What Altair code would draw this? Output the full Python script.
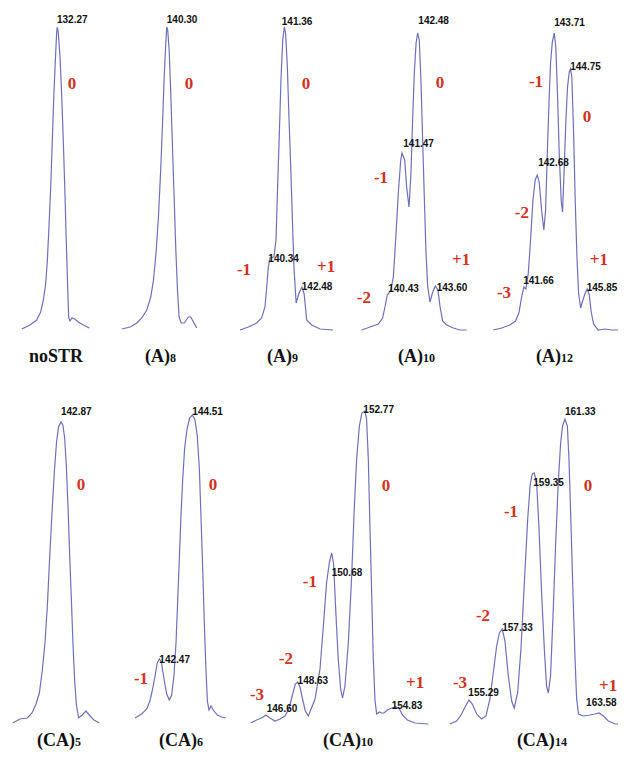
import altair as alt
import pandas as pd

# ---------------- data (size in bp, signal in relative fluorescence units) ----------------
nostr_bp = [130.05, 130.56, 130.98, 131.23, 131.40, 131.55, 131.65, 131.75, 131.86, 131.96,
            132.06, 132.17, 132.23, 132.27, 132.33, 132.44, 132.55, 132.65, 132.75, 132.83,
            132.92, 132.98, 133.06, 133.19, 133.36, 133.58, 133.90, 134.27]
nostr_rfu = [1, 5, 10, 18, 30, 47, 70, 103, 143, 190, 237, 277, 297, 303, 298, 273, 233, 187,
             137, 90, 43, 13, 9, 12, 11, 8, 5, 2]

a8_bp = [137.49, 138.01, 138.43, 138.74, 139.05, 139.30, 139.47, 139.63, 139.78, 139.93,
         140.05, 140.15, 140.24, 140.30, 140.36, 140.45, 140.55, 140.65, 140.76, 140.86,
         140.97, 141.07, 141.20, 141.40, 141.65, 141.80, 141.97, 142.18]
a8_rfu = [1, 3, 7, 12, 20, 33, 50, 77, 113, 163, 213, 257, 287, 303, 300, 280, 237, 187, 133,
          83, 40, 13, 7, 7, 13, 13, 8, 2]

a9_bp = [138.59, 139.11, 139.63, 139.94, 140.15, 140.26, 140.36, 140.46, 140.71, 140.84,
         140.94, 141.05, 141.15, 141.26, 141.36, 141.44, 141.55, 141.65, 141.76, 141.86,
         141.96, 142.10, 142.28, 142.46, 142.60, 142.76, 143.07, 143.59, 144.40]
a9_rfu = [0, 3, 7, 12, 23, 43, 63, 72, 73, 90, 143, 197, 250, 290, 303, 297, 263, 213, 163,
          113, 63, 27, 37, 43, 36, 10, 5, 1, 0]

a10_bp = [138.98, 139.50, 140.02, 140.29, 140.46, 140.58, 140.79, 140.96, 141.13, 141.27,
          141.42, 141.50, 141.67, 141.79, 141.94, 142.06, 142.17, 142.27, 142.38, 142.48,
          142.58, 142.69, 142.79, 142.90, 143.00, 143.11, 143.25, 143.40, 143.58, 143.75,
          143.88, 144.04, 144.29, 144.71, 145.13, 145.54]
a10_rfu = [0, 3, 6, 12, 25, 35, 39, 53, 97, 137, 170, 177, 170, 143, 123, 157, 213, 257, 287,
           297, 290, 247, 190, 130, 77, 43, 28, 37, 44, 40, 23, 9, 5, 2, 0, 0]

a12_bp = [139.90, 140.42, 140.94, 141.29, 141.50, 141.67, 141.81, 141.94, 142.09, 142.23,
          142.38, 142.52, 142.65, 142.77, 142.92, 143.06, 143.17, 143.27, 143.38, 143.48,
          143.59, 143.71, 143.81, 143.92, 144.02, 144.15, 144.23, 144.33, 144.44, 144.54,
          144.65, 144.73, 144.81, 144.92, 145.02, 145.13, 145.23, 145.36, 145.50, 145.65,
          145.77, 145.90, 146.02, 146.17, 146.46, 146.88, 147.29, 147.81]
a12_rfu = [0, 2, 5, 9, 17, 33, 43, 41, 57, 90, 130, 150, 155, 148, 120, 100, 120, 173, 227, 267,
           288, 297, 283, 233, 177, 128, 118, 160, 210, 243, 258, 261, 253, 197, 130, 73, 37, 22,
           30, 37, 41, 35, 18, 6, 0, 1, 0, 0]

ca5_bp = [139.85, 140.31, 140.77, 141.06, 141.31, 141.52, 141.70, 141.87, 142.02, 142.16,
          142.31, 142.45, 142.60, 142.72, 142.87, 142.99, 143.10, 143.20, 143.31, 143.41,
          143.52, 143.62, 143.72, 143.83, 143.97, 144.20, 144.43, 144.64, 144.93, 145.27]
ca5_rfu = [1, 5, 6, 11, 20, 31, 53, 81, 118, 165, 211, 251, 283, 297, 302, 299, 286, 260, 218,
           171, 125, 81, 45, 20, 6, 9, 13, 9, 4, 1]

ca6_bp = [140.93, 141.34, 141.66, 141.86, 142.03, 142.18, 142.32, 142.45, 142.57, 142.74,
          142.91, 143.07, 143.22, 143.36, 143.49, 143.59, 143.70, 143.80, 143.91, 144.03,
          144.18, 144.34, 144.51, 144.68, 144.82, 144.95, 145.05, 145.16, 145.26, 145.36,
          145.45, 145.55, 145.68, 145.82, 146.07, 146.34, 146.61]
ca6_rfu = [6, 10, 15, 23, 35, 48, 61, 65, 62, 45, 30, 24, 29, 48, 81, 121, 166, 208, 245, 276,
           295, 306, 309, 304, 288, 255, 208, 155, 101, 55, 23, 14, 18, 14, 9, 7, 6]

ca10_bp = [145.62, 146.00, 146.31, 146.58, 146.83, 147.15, 147.46, 147.77, 148.04, 148.25,
           148.42, 148.56, 148.71, 148.87, 149.04, 149.23, 149.65, 149.96, 150.17, 150.37,
           150.54, 150.69, 150.81, 150.94, 151.10, 151.25, 151.37, 151.52, 151.73, 151.94,
           152.10, 152.25, 152.42, 152.58, 152.77, 152.87, 152.98, 153.08, 153.19, 153.29,
           153.40, 153.50, 153.67, 153.81, 153.96, 154.17, 154.44, 154.71, 154.92, 155.12,
           155.42, 155.90, 156.73]
ca10_rfu = [1, 4, 6, 9, 6, 3, 5, 8, 16, 30, 40, 42, 37, 25, 13, 8, 25, 55, 98, 141, 161, 171,
            160, 115, 65, 35, 26, 38, 81, 148, 215, 265, 298, 311, 313, 305, 265, 198, 131, 65,
            23, 10, 12, 11, 11, 14, 16, 17, 15, 9, 4, 1, 0]

ca14_bp = [154.14, 154.56, 154.87, 155.12, 155.33, 155.54, 155.81, 156.12, 156.39, 156.64,
           156.85, 157.06, 157.23, 157.41, 157.58, 157.79, 158.00, 158.16, 158.37, 158.58,
           158.79, 159.00, 159.16, 159.29, 159.41, 159.56, 159.70, 159.87, 160.04, 160.18,
           160.29, 160.43, 160.60, 160.75, 160.91, 161.06, 161.18, 161.33, 161.48, 161.58,
           161.71, 161.83, 161.96, 162.06, 162.18, 162.48, 162.89, 163.21, 163.46, 163.73,
           164.04, 164.46, 164.83]
ca14_rfu = [0, 3, 10, 18, 24, 20, 10, 5, 8, 25, 51, 78, 91, 95, 83, 48, 23, 16, 31, 75, 141,
            205, 240, 250, 251, 241, 198, 131, 75, 38, 31, 48, 115, 181, 241, 281, 298, 305,
            298, 265, 198, 131, 65, 25, 10, 8, 9, 10, 11, 8, 3, 0, 0]

# called peak sizes (bp) and where their labels are anchored (bp, rfu)
nostr_peaks = [132.27]; nostr_plx = [132.25]; nostr_ply = [310]
a8_peaks = [140.30]; a8_plx = [140.30]; a8_ply = [310]
a9_peaks = [141.36, 140.34, 142.48]; a9_plx = [141.20, 140.36, 142.45]; a9_ply = [308, 71, 43]
a10_peaks = [142.48, 141.47, 140.43, 143.60]; a10_plx = [142.52, 141.58, 140.64, 143.67]
a10_ply = [309, 186, 41, 42]
a12_peaks = [143.71, 144.75, 142.68, 141.66, 145.85]
a12_plx = [143.71, 144.71, 142.71, 141.77, 145.74]; a12_ply = [307, 263, 167, 49, 42]
ca5_peaks = [142.87]; ca5_plx = [142.87]; ca5_ply = [312]
ca6_peaks = [144.51, 142.47]; ca6_plx = [144.51, 142.45]; ca6_ply = [312, 64]
ca10_peaks = [146.60, 148.63, 150.68, 152.77, 154.83]
ca10_plx = [146.63, 148.56, 150.69, 152.67, 154.44]; ca10_ply = [15, 43, 151, 314, 18]
ca14_peaks = [155.29, 157.33, 159.35, 161.33, 163.58]
ca14_plx = [155.29, 157.41, 159.35, 161.33, 162.65]; ca14_ply = [31, 96, 241, 312, 21]

# stutter-position annotations (text, bp, rfu)
nostr_st = ["0"]; nostr_stx = [133.19]; nostr_sty = [246]
a8_st = ["0"]; a8_stx = [141.69]; a8_sty = [246]
a9_st = ["0", "-1", "+1"]; a9_stx = [142.72, 138.84, 143.97]; a9_sty = [246, 60, 63]
a10_st = ["0", "-1", "-2", "+1"]; a10_stx = [143.87, 140.19, 139.12, 145.19]
a10_sty = [247, 152, 32, 70]
a12_st = ["-1", "0", "-2", "-3", "+1"]; a12_stx = [142.57, 145.75, 141.69, 140.57, 146.50]
a12_sty = [248, 213, 117, 37, 70]
ca5_st = ["0"]; ca5_stx = [144.12]; ca5_sty = [239]
ca6_st = ["0", "-1"]; ca6_stx = [145.80, 141.30]; ca6_sty = [239, 45]
ca10_st = ["-1", "-2", "-3", "0", "+1"]; ca10_stx = [149.33, 147.83, 146.02, 154.08, 155.90]
ca10_sty = [142, 65, 29, 238, 41]
ca14_st = ["-1", "0", "-2", "-3", "+1"]; ca14_stx = [157.96, 162.77, 156.21, 154.77, 164.03]
ca14_sty = [212, 238, 108, 41, 38]

# panel names: main text, subscript, anchor (bp) where the main text ends
top_names = ["noSTR", "(A)", "(A)", "(A)", "(A)"]
top_subs = ["", "8", "9", "10", "12"]
top_name_x = [133.88, 140.51, 141.84, 142.81, 144.13]
bot_names = ["(CA)", "(CA)", "(CA)", "(CA)"]
bot_subs = ["5", "6", "10", "14"]
bot_name_x = [143.75, 144.80, 152.52, 160.70]

# ---------------- layout / style ----------------
PX_PER_BP = 16.0
TRACE = "#6e70b9"
RED = "#d2321e"

top_x0 = [129.19, 136.44, 137.34, 138.25, 139.07]
top_w = [97, 115, 130, 130, 138]
bot_x0 = [139.56, 139.99, 144.96, 153.52]
bot_w = [112, 120, 200, 178]

top_data = [
    (nostr_bp, nostr_rfu, nostr_peaks, nostr_plx, nostr_ply, nostr_st, nostr_stx, nostr_sty),
    (a8_bp, a8_rfu, a8_peaks, a8_plx, a8_ply, a8_st, a8_stx, a8_sty),
    (a9_bp, a9_rfu, a9_peaks, a9_plx, a9_ply, a9_st, a9_stx, a9_sty),
    (a10_bp, a10_rfu, a10_peaks, a10_plx, a10_ply, a10_st, a10_stx, a10_sty),
    (a12_bp, a12_rfu, a12_peaks, a12_plx, a12_ply, a12_st, a12_stx, a12_sty),
]
bot_data = [
    (ca5_bp, ca5_rfu, ca5_peaks, ca5_plx, ca5_ply, ca5_st, ca5_stx, ca5_sty),
    (ca6_bp, ca6_rfu, ca6_peaks, ca6_plx, ca6_ply, ca6_st, ca6_stx, ca6_sty),
    (ca10_bp, ca10_rfu, ca10_peaks, ca10_plx, ca10_ply, ca10_st, ca10_stx, ca10_sty),
    (ca14_bp, ca14_rfu, ca14_peaks, ca14_plx, ca14_ply, ca14_st, ca14_stx, ca14_sty),
]


def make_panel(d, name, sub, name_x, name_y, x0, w, ydom, h):
    bp, rfu, pk, plx, ply, st, stx, sty = d
    xs = alt.Scale(domain=[x0, x0 + w / PX_PER_BP], nice=False, zero=False)
    ys = alt.Scale(domain=ydom, nice=False, zero=False)

    def enc(xf, yf):
        return dict(x=alt.X(xf + ":Q", scale=xs, axis=None),
                    y=alt.Y(yf + ":Q", scale=ys, axis=None))

    trace = alt.Chart(pd.DataFrame({"bp": bp, "rfu": rfu})).mark_line(
        color=TRACE, strokeWidth=1.2, clip=True).encode(**enc("bp", "rfu"))
    peaks = alt.Chart(pd.DataFrame({"lab": [f"{v:.2f}" for v in pk], "x": plx, "y": ply})).mark_text(
        align="left", baseline="middle", font="Liberation Sans", fontWeight="bold",
        fontSize=10, color="#111111", clip=True).encode(text="lab:N", **enc("x", "y"))
    stut = alt.Chart(pd.DataFrame({"lab": st, "x": stx, "y": sty})).mark_text(
        align="center", baseline="middle", font="Liberation Serif", fontWeight="bold",
        fontSize=17, color=RED, clip=True).encode(text="lab:N", **enc("x", "y"))
    main = alt.Chart(pd.DataFrame({"lab": [name], "x": [name_x], "y": [name_y]})).mark_text(
        align="right", baseline="alphabetic", font="Liberation Serif", fontWeight="bold",
        fontSize=18, color="#111111").encode(text="lab:N", **enc("x", "y"))
    layers = [trace, peaks, stut, main]
    if sub:
        sb = alt.Chart(pd.DataFrame({"lab": [sub], "x": [name_x], "y": [name_y]})).mark_text(
            align="left", baseline="alphabetic", font="Liberation Serif", fontWeight="bold",
            fontSize=12, color="#111111").encode(text="lab:N", **enc("x", "y"))
        layers.append(sb)
    return alt.layer(*layers).properties(width=w, height=h)


top_panels = [make_panel(top_data[i], top_names[i], top_subs[i], top_name_x[i], -32,
                         top_x0[i], top_w[i], [-38, 322], 360) for i in range(5)]
bot_panels = [make_panel(bot_data[i], bot_names[i], bot_subs[i], bot_name_x[i], -22,
                         bot_x0[i], bot_w[i], [-26, 356], 382) for i in range(4)]

chart = alt.vconcat(
    alt.hconcat(*top_panels, spacing=0, bounds="flush"),
    alt.hconcat(*bot_panels, spacing=0, bounds="flush"),
    spacing=0, padding=0, background="white",
).configure_view(stroke=None)

chart.save("out.html", embed_options={"renderer": "svg", "actions": False})
